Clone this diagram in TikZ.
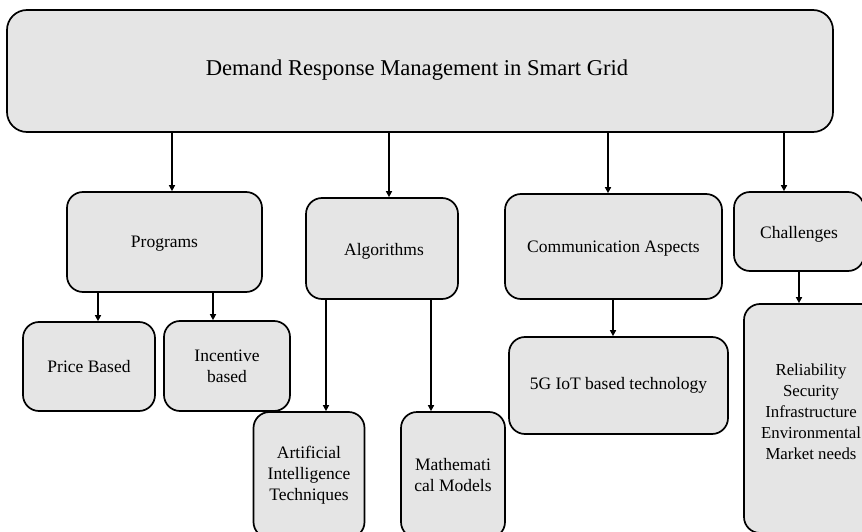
\documentclass[tikz,border=0pt]{standalone}
\usepackage{fontspec}
\setmainfont{Liberation Serif}
\usetikzlibrary{arrows.meta}
\definecolor{boxfill}{HTML}{E5E5E5}
\tikzset{
  box/.style={draw=black, line width=1.7pt, fill=boxfill, rounded corners=16pt,
    inner sep=0pt, align=center, font=\fontsize{17.5}{21}\selectfont},
  titlebox/.style={box, rounded corners=20pt, font=\fontsize{22.6}{27}\selectfont},
  lbl/.style={inner sep=0pt, align=center, font=\fontsize{17.5}{21}\selectfont},
  arr/.style={line width=1.5pt, -{Triangle[length=6pt,width=6pt]}}
}
\begin{document}
\begin{tikzpicture}[x=1pt,y=-1pt]
\useasboundingbox (0,0) rectangle (862,532);
\clip (0,0) rectangle (862,532);
% top
\node[titlebox, minimum width=826pt, minimum height=122pt] (top) at (420,71) {};
\node[lbl, font=\fontsize{22.6}{27}\selectfont] (toptxt) at (417,70) {Demand Response Management in Smart Grid};
% level 1
\node[box, minimum width=195pt, minimum height=100pt] (prog) at (164.5,242) {};
\node[lbl] (progtxt) at (164.5,244) {Programs};
\node[box, minimum width=152pt, minimum height=101pt] (alg) at (382,248.5) {};
\node[lbl] (algtxt) at (384,251) {Algorithms};
\node[box, minimum width=217pt, minimum height=105pt] (comm) at (613.5,246.5) {};
\node[lbl] (commtxt) at (613.5,249) {Communication Aspects};
\node[box, minimum width=130pt, minimum height=79pt] (chal) at (799,231.5) {};
\node[lbl] (chaltitle) at (799,234) {Challenges};
% level 2
\node[box, minimum width=132pt, minimum height=89pt] (price) at (89,366.5) {Price Based};
\node[box, minimum width=126pt, minimum height=90pt] (inc) at (227,366) {Incentive\\based};
\node[box, minimum width=111pt, minimum height=126pt] (ai) at (309,475) {Artificial\\Intelligence\\Techniques};
\node[box, minimum width=104pt, minimum height=126pt] (math) at (453,475) {Mathemati\\cal Models};
\node[box, minimum width=219pt, minimum height=97pt] (fiveg) at (618.5,385.5) {5G IoT based technology};
\node[box, minimum width=140pt, minimum height=229pt] (chal2) at (814,418.5) {};
\node[lbl, font=\fontsize{16.8}{21}\selectfont] (chaltxt) at (811,412) {Reliability\\Security\\Infrastructure\\Environmental\\Market needs};
% arrow columns
\coordinate (c1) at (172,0);
\coordinate (c2) at (389,0);
\coordinate (c3) at (608,0);
\coordinate (c4) at (784,0);
\coordinate (c5) at (98,0);
\coordinate (c6) at (213,0);
\coordinate (c7) at (326,0);
\coordinate (c8) at (431,0);
\coordinate (c9) at (613,0);
\coordinate (c10) at (799,0);
\draw[arr] (top.south -| c1) -- (prog.north -| c1);
\draw[arr] (top.south -| c2) -- (alg.north -| c2);
\draw[arr] (top.south -| c3) -- (comm.north -| c3);
\draw[arr] (top.south -| c4) -- (chal.north -| c4);
\draw[arr] (prog.south -| c5) -- (price.north -| c5);
\draw[arr] (prog.south -| c6) -- (inc.north -| c6);
\draw[arr] (alg.south -| c7) -- (ai.north -| c7);
\draw[arr] (alg.south -| c8) -- (math.north -| c8);
\draw[arr] (comm.south -| c9) -- (fiveg.north -| c9);
\draw[arr] (chal.south -| c10) -- (chal2.north -| c10);
\end{tikzpicture}
\end{document}
